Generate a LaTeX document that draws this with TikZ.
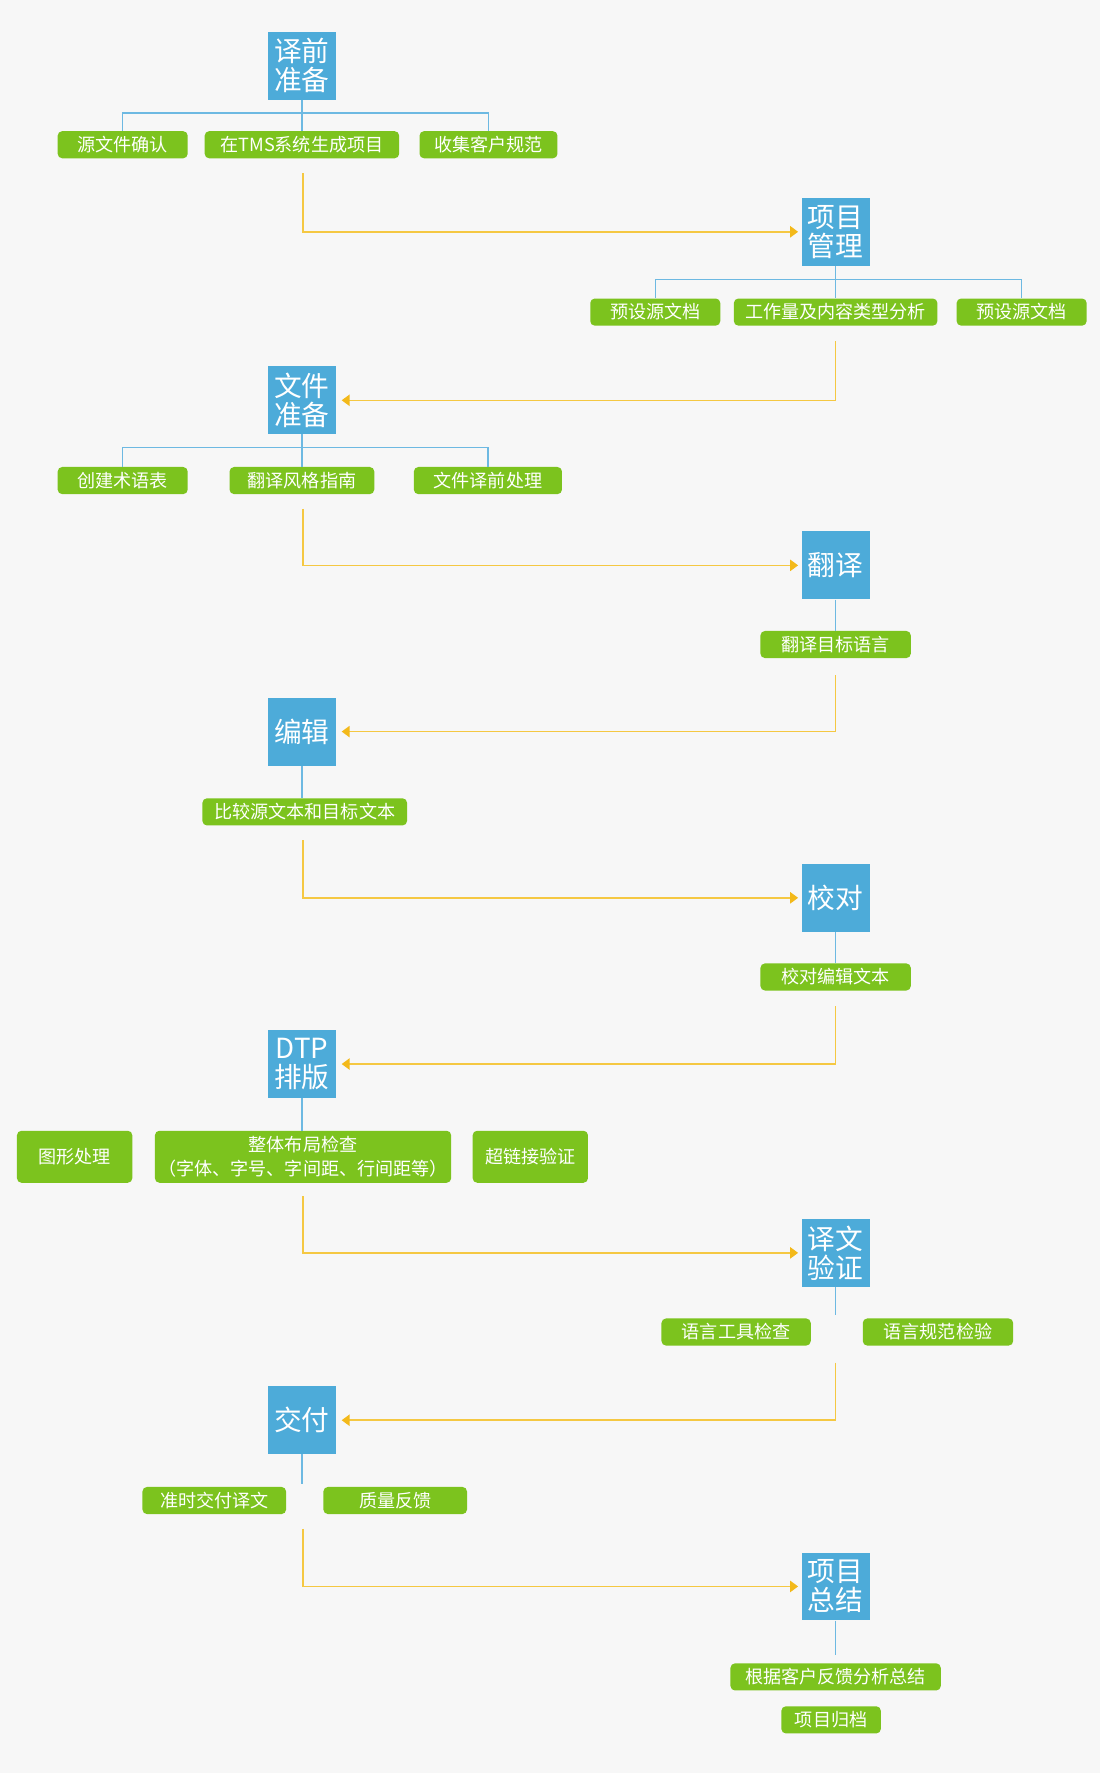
\documentclass[tikz,border=0pt]{standalone}
\usepackage{fontspec}
\newfontfamily\cjk{Noto Sans CJK SC}
\usetikzlibrary{arrows.meta}
\definecolor{bgc}{HTML}{F7F7F7}
\definecolor{sblue}{HTML}{4DABD9}
\definecolor{lblue}{HTML}{6DB9E2}
\definecolor{tgreen}{HTML}{7CC31E}
\definecolor{fyel}{HTML}{F5C842}
\definecolor{fyeltip}{HTML}{F3B91A}
\tikzset{
  stage/.style={fill=sblue, minimum width=60, minimum height=60, text=white,
    font=\cjk\fontsize{24.5}{25.5}\selectfont, align=center, inner sep=0},
  task/.style={fill=tgreen, rounded corners=4, minimum height=24, text=white,
    font=\cjk\fontsize{16}{21}\selectfont, inner sep=0, align=center},
  tree/.style={draw=lblue, line width=1.1},
  flowr/.style={draw=fyel, line width=1.3, -{Triangle[length=7,width=10,color=fyeltip]}, shorten >=3},
  flowl/.style={draw=fyel, line width=1.3, -{Triangle[length=7,width=10,color=fyeltip]}, shorten >=5},
}
\begin{document}
\begin{tikzpicture}[x=1pt,y=-1pt]
\fill[bgc] (0,0) rectangle (973,1568);
\useasboundingbox (0,0) rectangle (973,1568);

% ---------- 1 译前准备
\node[stage] (s1) at (267,58) {译前\\准备};
\node[task, minimum width=115] (a1) at (108.5,128) {源文件确认};
\node[task, minimum width=172] (a2) at (267,128) {在TMS系统生成项目};
\node[task, minimum width=122] (a3) at (432,128) {收集客户规范};
\coordinate (j1) at (267,100);
\draw[tree] (s1.south) -- (j1) -- (a2.north);
\draw[tree] (a1.north) |- (j1) -| (a3.north);
\coordinate (f1) at (268,153);

% ---------- 2 项目管理
\node[stage] (s2) at (739,205) {项目\\管理};
\node[task, minimum width=115] (b1) at (579.5,276) {预设源文档};
\node[task, minimum width=180] (b2) at (739,276) {工作量及内容类型分析};
\node[task, minimum width=115] (b3) at (903.5,276) {预设源文档};
\coordinate (j2) at (739,247);
\draw[tree] (s2.south) -- (j2) -- (b2.north);
\draw[tree] (b1.north) |- (j2) -| (b3.north);
\draw[flowr] (f1) |- (s2.west);
\coordinate (f2) at (739,302);

% ---------- 3 文件准备
\node[stage] (s3) at (267,354) {文件\\准备};
\node[task, minimum width=115] (c1) at (108.5,425) {创建术语表};
\node[task, minimum width=128] (c2) at (267,425) {翻译风格指南};
\node[task, minimum width=131] (c3) at (431.5,425) {文件译前处理};
\coordinate (j3) at (267,396);
\draw[tree] (s3.south) -- (j3) -- (c2.north);
\draw[tree] (c1.north) |- (j3) -| (c3.north);
\draw[flowl] (f2) |- (s3.east);
\coordinate (f3) at (268,450);

% ---------- 4 翻译
\node[stage] (s4) at (739,500) {翻译};
\node[task, minimum width=133] (d1) at (739,570) {翻译目标语言};
\draw[tree] (s4.south) -- (d1.north);
\draw[flowr] (f3) |- (s4.west);
\coordinate (f4) at (739,597);

% ---------- 5 编辑
\node[stage] (s5) at (267,647) {编辑};
\node[task, minimum width=181] (e1) at (269.5,718) {比较源文本和目标文本};
\draw[tree] (s5.south) -- (s5.south |- e1.north);
\draw[flowl] (f4) |- (s5.east);
\coordinate (f5) at (268,743);

% ---------- 6 校对
\node[stage] (s6) at (739,794) {校对};
\node[task, minimum width=133] (g1) at (739,864) {校对编辑文本};
\draw[tree] (s6.south) -- (g1.north);
\draw[flowr] (f5) |- (s6.west);
\coordinate (f6) at (739,890);

% ---------- 7 DTP排版
\node[stage] (s7) at (267,941) {DTP\\排版};
\node[task, minimum width=102, minimum height=46] (h1) at (66,1023) {图形处理};
\node[task, minimum width=262, minimum height=46] (h2) at (268,1023) {整体布局检查\\（字体、字号、字间距、行间距等）};
\node[task, minimum width=102, minimum height=46] (h3) at (469,1023) {超链接验证};
\draw[tree] (s7.south) -- (s7.south |- h2.north);
\draw[flowl] (f6) |- (s7.east);
\coordinate (f7) at (268,1058);

% ---------- 8 译文验证
\node[stage] (s8) at (739,1108) {译文\\验证};
\node[task, minimum width=132] (k1) at (651,1178) {语言工具检查};
\node[task, minimum width=133] (k2) at (829.5,1178) {语言规范检验};
\coordinate (j8) at (739,1163);
\draw[tree] (s8.south) -- (j8);
\draw[flowr] (f7) |- (s8.west);
\coordinate (f8) at (739,1205);

% ---------- 9 交付
\node[stage] (s9) at (267,1256) {交付};
\node[task, minimum width=127] (m1) at (189.5,1327) {准时交付译文};
\node[task, minimum width=127] (m2) at (349.5,1327) {质量反馈};
\coordinate (j9) at (267,1312);
\draw[tree] (s9.south) -- (j9);
\draw[flowl] (f8) |- (s9.east);
\coordinate (f9) at (268,1352);

% ---------- 10 项目总结
\node[stage] (s10) at (739,1403) {项目\\总结};
\node[task, minimum width=186] (n1) at (739,1483) {根据客户反馈分析总结};
\node[task, minimum width=88] (n2) at (735,1521) {项目归档};
\coordinate (j10) at (739,1464);
\draw[tree] (s10.south) -- (j10);
\draw[flowr] (f9) |- (s10.west);
\end{tikzpicture}
\end{document}
